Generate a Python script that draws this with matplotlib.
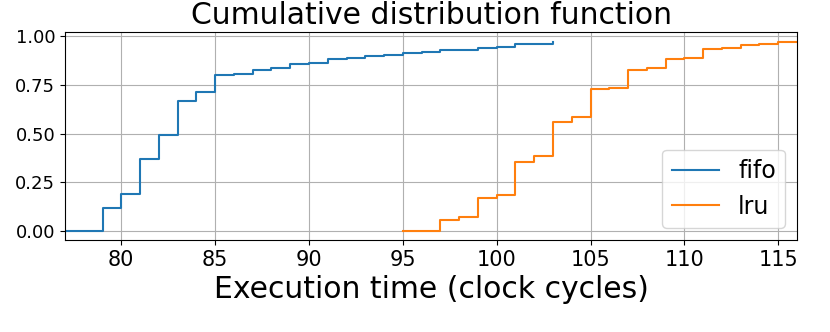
import matplotlib
matplotlib.use("Agg")
import matplotlib.pyplot as plt

# CDF values, one per integer cycle count
fifo_x = [76, 79, 80, 81, 82, 83, 84, 85, 86, 87, 88, 89, 90, 91, 92,
          93, 94, 95, 96, 97, 98, 99, 100, 101, 102, 103]
fifo_y = [0.0, 0.12, 0.19, 0.37, 0.494, 0.668, 0.713, 0.80, 0.804, 0.824,
          0.834, 0.855, 0.86, 0.881, 0.885, 0.896, 0.90, 0.913, 0.916, 0.927,
          0.93, 0.94, 0.944, 0.957, 0.96, 0.971]

lru_x = [95, 97, 98, 99, 100, 101, 102, 103, 104, 105, 106, 107, 108, 109,
         110, 111, 112, 113, 114, 115, 117]
lru_y = [0.003, 0.058, 0.074, 0.168, 0.186, 0.355, 0.386, 0.56, 0.585, 0.727,
         0.735, 0.827, 0.834, 0.883, 0.889, 0.935, 0.937, 0.954, 0.956, 0.971,
         0.975]

fig = plt.figure(figsize=(8.3, 3.32), dpi=100)
ax = fig.add_axes([65 / 830, 92 / 332, 732 / 830, 208 / 332])

ax.step(fifo_x, fifo_y, where="post", label="fifo")
ax.step(lru_x, lru_y, where="post", label="lru")

ax.set_xlim(77, 116)
ax.set_ylim(-0.045, 1.02)
ax.set_yticks([0, 0.25, 0.5, 0.75, 1.0])
ax.grid(True)
ax.tick_params(axis="x", labelsize=15)
ax.tick_params(axis="y", labelsize=13)
ax.set_title("Cumulative distribution function", fontsize=21.5)
ax.set_xlabel("Execution time (clock cycles)", fontsize=21.5)
ax.legend(loc="lower right", fontsize=17)

fig.savefig("out.png", dpi=100)
